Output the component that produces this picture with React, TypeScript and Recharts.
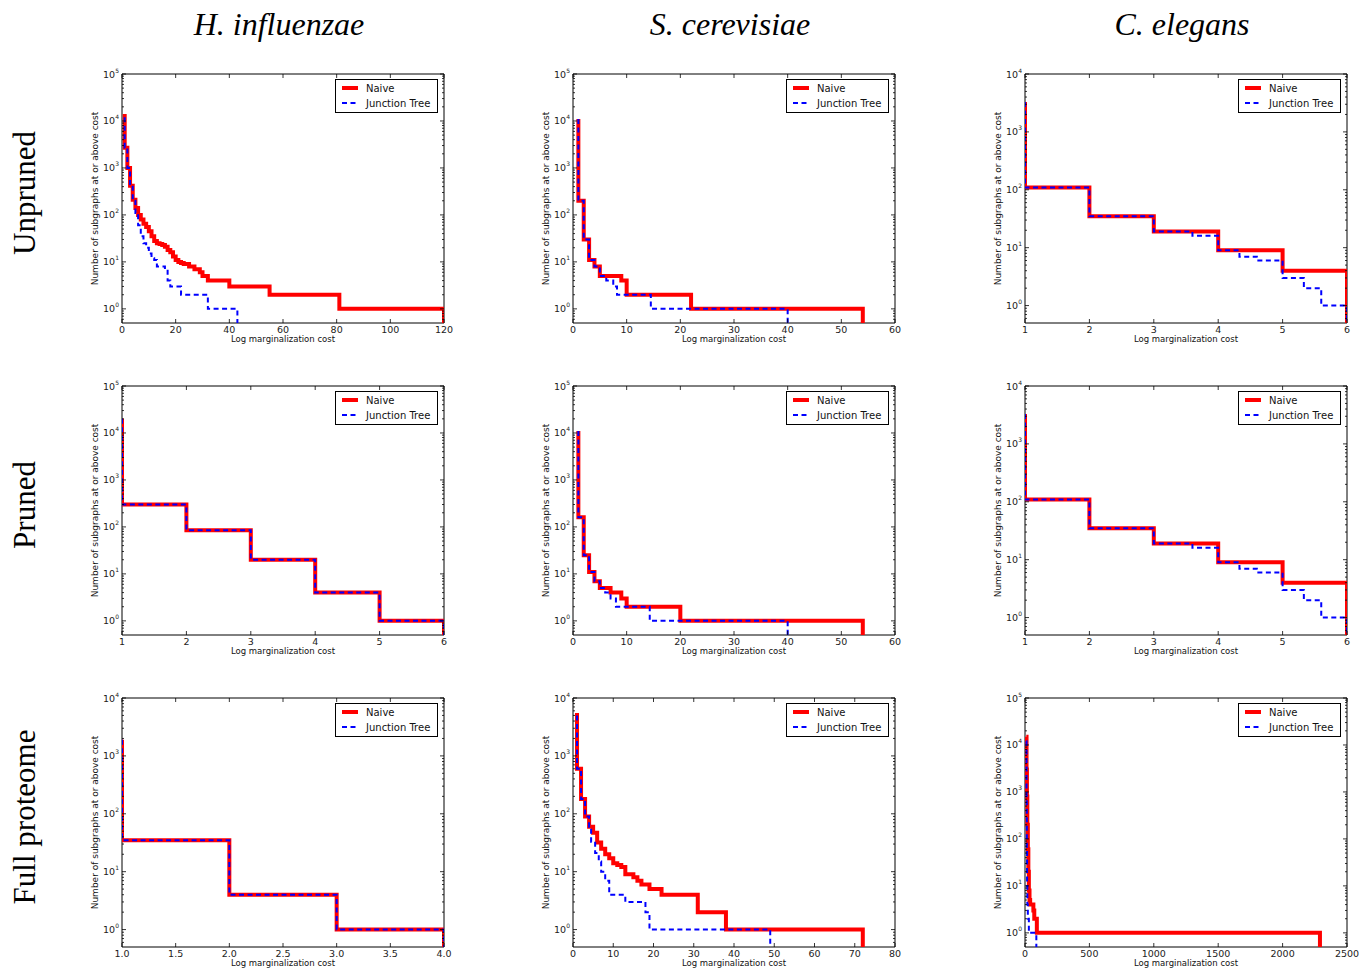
import { Line, LineChart, ReferenceArea, XAxis, YAxis } from 'recharts';

// step data: first pair is where the curve starts, each later pair is [cost, count from there on]
const hinfUnprunedNaive = [[1, 14000], [1, 2700], [2, 1000], [3, 420], [4, 210], [5, 140], [6, 100], [7, 80], [8, 65], [9, 55], [10, 45], [11, 35], [12, 28], [13, 25], [14, 24], [15, 23], [16, 21], [17, 18], [18, 16], [19, 13], [20, 11], [21, 10], [22, 9.5], [23, 9], [25, 8], [27, 7], [29, 6], [30, 5], [32, 4], [40, 3], [55, 2], [81, 1]];
const hinfUnprunedJt = [[1, 12000], [1, 2700], [2, 1000], [3, 420], [4, 200], [5, 110], [6, 60], [7, 35], [8, 25], [9, 20], [10, 15], [11, 12], [12, 11], [13, 8], [16, 7], [17, 4], [18, 3], [22, 2], [32, 1]];
const scerUnprunedNaive = [[1, 11000], [1, 200], [2, 30], [3, 11], [4, 8], [5, 5], [9, 4], [10, 2], [22, 1]];
const scerUnprunedJt = [[1, 11000], [1, 200], [2, 30], [3, 11], [4, 8], [5, 5], [6.2, 4], [7.5, 3], [8.2, 2], [14.5, 1]];
const celeUnprunedNaive = [[1, 3300], [1, 110], [2, 35], [3, 19], [4, 9], [5, 4]];
const celeUnprunedJt = [[1, 3300], [1, 110], [2, 35], [3, 19], [3.6, 16], [4, 9], [4.33, 7], [4.6, 6], [5, 3], [5.33, 2], [5.6, 1]];

const hinfPrunedNaive = [[1, 20000], [1, 300], [2, 85], [3, 20], [4, 4], [5, 1]];
const hinfPrunedJt = [[1, 20000], [1, 300], [2, 85], [3, 20], [4, 4], [5, 1]];
const scerPrunedNaive = [[1, 11000], [1, 160], [2, 25], [3, 11], [4, 7], [5, 5], [7, 4], [9, 3], [10, 2], [20, 1]];
const scerPrunedJt = [[1, 11000], [1, 160], [2, 25], [3, 11], [4, 7], [5, 5], [6, 4], [7, 3], [8, 2], [14.3, 1]];
const celePrunedNaive = [[1, 3300], [1, 110], [2, 35], [3, 19], [4, 9], [5, 4]];
const celePrunedJt = [[1, 3300], [1, 110], [2, 35], [3, 19], [3.6, 16], [4, 9], [4.33, 7], [4.6, 6], [5, 3], [5.33, 2], [5.6, 1]];

const hinfFullNaive = [[1, 1900], [1, 35], [2, 4], [3, 1]];
const hinfFullJt = [[1, 1900], [1, 35], [2, 4], [3, 1]];
const scerFullNaive = [[1, 5500], [1, 600], [2, 180], [3, 90], [4, 60], [5, 47], [6, 32], [7, 25], [8, 20], [9, 17], [10, 14], [11, 13], [12, 12], [13, 9], [15, 8], [16, 7], [17, 6], [19, 5], [22, 4], [31, 2], [38, 1]];
const scerFullJt = [[1, 5000], [1, 600], [2, 180], [3, 90], [4, 60], [4.5, 33], [5.5, 21], [6.4, 15], [7, 10], [8, 7], [9, 4], [13, 3], [18, 2], [19, 1]];
const celeFullNaive = [[10, 15000], [12, 3000], [15, 800], [18, 200], [22, 60], [26, 20], [30, 8], [35, 5], [40, 4], [65, 3], [72, 2], [92, 1]];
const celeFullJt = [[10, 12000], [12, 800], [14, 60], [16, 10], [18, 4], [22, 2], [30, 1]];

// where each curve stops (drops off the bottom)
const naiveEnds = [120, 54, 6, 6, 54, 6, 4, 72, 2290];
const jtEnds = [43, 40, 6, 6, 40, 6, 4, 49, 88];

const xTicks = [
  [0, 20, 40, 60, 80, 100, 120],
  [0, 10, 20, 30, 40, 50, 60],
  [1, 2, 3, 4, 5, 6],
  [1, 2, 3, 4, 5, 6],
  [0, 10, 20, 30, 40, 50, 60],
  [1, 2, 3, 4, 5, 6],
  [1.0, 1.5, 2.0, 2.5, 3.0, 3.5, 4.0],
  [0, 10, 20, 30, 40, 50, 60, 70, 80],
  [0, 500, 1000, 1500, 2000, 2500],
];
const xDecimals = [0, 0, 0, 0, 0, 0, 1, 0, 0];
const yMaxExp = [5, 5, 4, 5, 5, 4, 4, 4, 5];

const species = ['H. influenzae', 'S. cerevisiae', 'C. elegans'];
const rows = ['Unpruned', 'Pruned', 'Full proteome'];

const naiveSeries = [hinfUnprunedNaive, scerUnprunedNaive, celeUnprunedNaive, hinfPrunedNaive, scerPrunedNaive, celePrunedNaive, hinfFullNaive, scerFullNaive, celeFullNaive];
const jtSeries = [hinfUnprunedJt, scerUnprunedJt, celeUnprunedJt, hinfPrunedJt, scerPrunedJt, celePrunedJt, hinfFullJt, scerFullJt, celeFullJt];

const colLeft = [122, 573, 1025];
const rowTop = [74, 386, 698];

const FONT = '"DejaVu Sans", sans-serif';
const PL = 38;
const PT = 10;
const PW = 322;
const PH = 249;

function stepPoints(steps: number[][], end: number) {
  const pts = [{ x: steps[0][0], y: steps[0][1] }];
  for (let i = 1; i < steps.length; i++) {
    pts.push({ x: steps[i][0], y: steps[i - 1][1] });
    pts.push({ x: steps[i][0], y: steps[i][1] });
  }
  const last = steps[steps.length - 1][1];
  pts.push({ x: end, y: last });
  pts.push({ x: end, y: 0.1 });
  return pts;
}

function logTicks(maxExp: number) {
  const t: number[] = [0.6, 0.7, 0.8, 0.9];
  for (let e = 0; e < maxExp; e++) {
    for (let m = 1; m < 10; m++) t.push(m * Math.pow(10, e));
  }
  t.push(Math.pow(10, maxExp));
  return t;
}

function YTick(props: any) {
  const { y, payload } = props;
  const lg = Math.log10(payload.value);
  const e = Math.round(lg);
  const major = Math.abs(lg - e) < 1e-6;
  const len = major ? 4 : 2;
  return (
    <g>
      <line x1={PL} x2={PL + len} y1={y} y2={y} stroke="#000" strokeWidth={0.8} />
      <line x1={PL + PW - len} x2={PL + PW} y1={y} y2={y} stroke="#000" strokeWidth={0.8} />
      {major && (
        <text x={PL - 3} y={y + 3.5} textAnchor="end" fontSize={9.5} fill="#222" fontFamily={FONT}>
          10<tspan dy={-5} fontSize={6}>{e}</tspan>
        </text>
      )}
    </g>
  );
}

function XTick(props: any) {
  const { x, payload, dec } = props;
  return (
    <g>
      <line x1={x} x2={x} y1={PT + PH} y2={PT + PH - 4} stroke="#000" strokeWidth={0.8} />
      <line x1={x} x2={x} y1={PT} y2={PT + 4} stroke="#000" strokeWidth={0.8} />
      <text x={x} y={PT + PH + 9.5} textAnchor="middle" fontSize={9.5} fill="#222" fontFamily={FONT}>
        {Number(payload.value).toFixed(dec)}
      </text>
    </g>
  );
}

function LegendBox() {
  return (
    <div
      style={{
        position: 'absolute',
        left: PL + 213,
        top: PT + 5,
        width: 103,
        height: 34,
        boxSizing: 'border-box',
        border: '1px solid #000',
        background: '#fff',
        fontFamily: FONT,
        fontSize: 10,
      }}
    >
      <svg width={101} height={32} style={{ position: 'absolute', left: 0, top: 0 }}>
        <line x1={6} x2={22} y1={8} y2={8} stroke="#ff0000" strokeWidth={4} />
        <line x1={6} x2={22} y1={23} y2={23} stroke="#0000ff" strokeWidth={2} strokeDasharray="5 3.5" />
        <text x={30} y={11.5} fontSize={10} fill="#111" fontFamily={FONT}>Naive</text>
        <text x={30} y={26.5} fontSize={10} fill="#111" fontFamily={FONT}>Junction Tree</text>
      </svg>
    </div>
  );
}

function Panel({ idx }: { idx: number }) {
  const col = idx % 3;
  const row = Math.floor(idx / 3);
  const ticks = xTicks[idx];
  const xmin = ticks[0];
  const xmax = ticks[ticks.length - 1];
  const ymax = Math.pow(10, yMaxExp[idx]);
  const naive = stepPoints(naiveSeries[idx], naiveEnds[idx]);
  const jt = stepPoints(jtSeries[idx], jtEnds[idx]);
  return (
    <div style={{ position: 'absolute', left: colLeft[col] - PL, top: rowTop[row] - PT, width: 380, height: 289 }}>
      <LineChart width={380} height={289} margin={{ top: PT, right: 20, bottom: 0, left: 8 }}>
        <XAxis
          type="number"
          dataKey="x"
          domain={[xmin, xmax]}
          ticks={ticks}
          interval={0}
          allowDataOverflow
          axisLine={false}
          tickLine={false}
          tickSize={0}
          tickMargin={0}
          height={30}
          tick={(p: any) => <XTick {...p} dec={xDecimals[idx]} />}
          label={{ value: 'Log marginalization cost', position: 'insideBottom', offset: 11, fontSize: 8.5, fill: '#111', fontFamily: FONT }}
        />
        <YAxis
          type="number"
          dataKey="y"
          scale="log"
          domain={[0.5, ymax]}
          ticks={logTicks(yMaxExp[idx])}
          interval={0}
          allowDataOverflow
          axisLine={false}
          tickLine={false}
          tickSize={0}
          tickMargin={0}
          width={30}
          tick={(p: any) => <YTick {...p} />}
          label={{
            value: 'Number of subgraphs at or above cost',
            angle: -90,
            position: 'insideLeft',
            offset: 3,
            fontSize: 9,
            fill: '#111',
            fontFamily: FONT,
            style: { textAnchor: 'middle' },
          }}
        />
        <ReferenceArea x1={xmin} x2={xmax} y1={0.5} y2={ymax} fill="none" stroke="#000" strokeWidth={1} />
        <Line data={naive} dataKey="y" type="linear" stroke="#ff0000" strokeWidth={4} dot={false} activeDot={false} isAnimationActive={false} />
        <Line data={jt} dataKey="y" type="linear" stroke="#0000ff" strokeWidth={2} strokeDasharray="5 3.5" dot={false} activeDot={false} isAnimationActive={false} />
      </LineChart>
      <LegendBox />
    </div>
  );
}

export default function App() {
  return (
    <div style={{ position: 'absolute', left: 0, top: 0, width: 1369, height: 969, background: '#fff' }}>
      {species.map((s, i) => (
        <div
          key={s}
          style={{
            position: 'absolute',
            left: colLeft[i] + 157,
            top: 24,
            transform: 'translate(-50%, -50%)',
            fontFamily: '"Liberation Serif", serif',
            fontStyle: 'italic',
            fontSize: 32,
            whiteSpace: 'nowrap',
          }}
        >
          {s}
        </div>
      ))}
      {rows.map((r, i) => (
        <div
          key={r}
          style={{
            position: 'absolute',
            left: 25,
            top: rowTop[i] + 119,
            transform: 'translate(-50%, -50%) rotate(-90deg)',
            fontFamily: '"Liberation Serif", serif',
            fontSize: 31,
            whiteSpace: 'nowrap',
          }}
        >
          {r}
        </div>
      ))}
      {naiveSeries.map((_, i) => (
        <Panel key={i} idx={i} />
      ))}
    </div>
  );
}
